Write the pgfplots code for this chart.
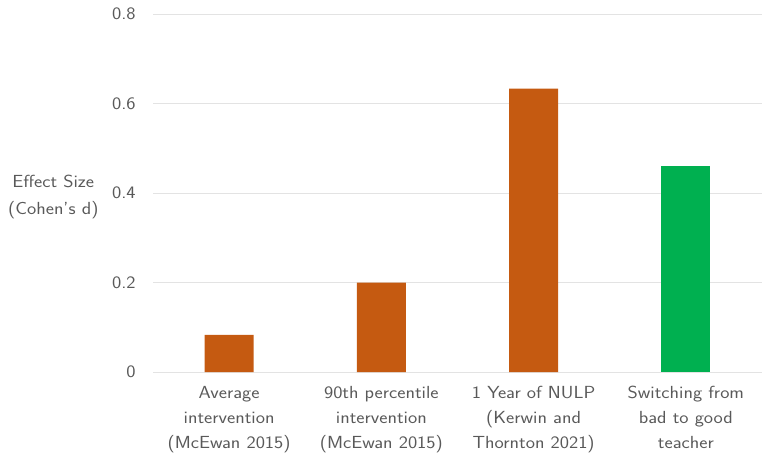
\documentclass[border=0pt]{standalone}
\usepackage{pgfplots}
\pgfplotsset{compat=1.18}
\renewcommand{\familydefault}{\sfdefault}
\definecolor{txt}{HTML}{595959}
\definecolor{gridc}{HTML}{E3E3E3}
\definecolor{orng}{HTML}{C55A11}
\definecolor{grn}{HTML}{00B050}
\begin{document}
\begin{tikzpicture}
\begin{axis}[
  scale only axis,
  width=609bp, height=358bp,
  at={(0,0)}, anchor=south west,
  ymin=0, ymax=0.8,
  xmin=-0.5, xmax=3.5,
  ytick={0,0.2,0.4,0.6,0.8},
  xtick={0,1,2,3},
  xticklabels={{Average\\intervention\\(McEwan 2015)},{90th percentile\\intervention\\(McEwan 2015)},{1 Year of NULP\\(Kerwin and\\Thornton 2021)},{Switching from\\bad to good\\teacher}},
  /pgf/number format/assume math mode=true,
  yticklabel style={/pgf/number format/fixed, /pgf/number format/precision=1, font=\fontsize{17.5bp}{20bp}\selectfont, xscale=1.12, text=txt, xshift=-12bp},
  xticklabel style={align=center, font=\fontsize{17.5bp}{25bp}\selectfont, xscale=1.12, text=txt, yshift=-11bp},
  axis line style={draw=none},
  ymajorgrids, grid style={gridc, line width=1bp},
  major tick length=0pt,
  ybar, bar width=49bp, bar shift=0pt,
  clip=false,
]
\addplot[fill=orng, draw=none] coordinates {(0,0.083) (1,0.200) (2,0.633)};
\addplot[fill=grn, draw=none] coordinates {(3,0.460)};
\node[align=center, font=\fontsize{17.5bp}{27bp}\selectfont, xscale=1.12, text=txt] at (rel axis cs:0,0.49) [xshift=-89bp] {Effect Size\\(Cohen's d)};
\end{axis}
\pgfresetboundingbox
\path[use as bounding box] (-153bp,-84bp) rectangle (609bp,372bp);
\end{tikzpicture}
\end{document}
